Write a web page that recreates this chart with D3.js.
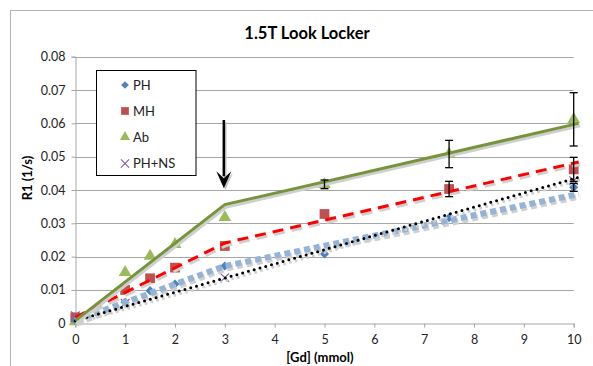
<!DOCTYPE html>
<html><head><meta charset="utf-8">
<script src="https://cdn.jsdelivr.net/npm/d3@7"></script>
<style>body{margin:0;background:#fff}svg{display:block;font-family:Lato,"Open Sans",sans-serif}</style>
</head><body>
<svg id="c" width="593" height="366"></svg>
<script>
const title = "1.5T Look Locker";
const xLabel = "[Gd] (mmol)";
const yLabel = "R1 (1/s)";
const xTicks = [0,1,2,3,4,5,6,7,8,9,10];
const yTicks = [0,0.01,0.02,0.03,0.04,0.05,0.06,0.07,0.08];
const seriesNames = ["PH","MH","Ab","PH+NS"];
const conc = [0,1,1.5,2,3,5,7.5,10];
const PH = [0.001,0.0063,0.0098,0.0118,0.0172,0.0208,0.0317,0.0408];
const MH = [0.0018,0.0100,0.0135,0.0167,0.0232,0.0328,0.0403,0.0462];
const Ab = [0.0005,0.0153,0.0202,0.0237,0.0318,0.0417,0.0508,0.0612];
const concNS = [0,1,3,10];
const PHNS = [0.0023,0.0060,0.0137,0.0428];
const errPH = [0,0,0,0,0,0,0,0.0012];
const errMH = [0,0,0,0,0,0,0.0023,0.0036];
const errAb = [0,0,0,0,0,0.0013,0.0041,0.008];
const fitX = [0,3,10.1];
const fitAb = [0.0008,0.0356,0.0600];
const fitMH = [0.0018,0.0241,0.0484];
const fitPH = [0.0008,0.0172,0.0388];
const fitNSX = [0,10.1];
const fitNS = [0.0008,0.0438];
const arrowX = 2.98, arrowTop = 0.061, arrowTip = 0.0405;

const svg = d3.select("#c");
const x = d3.scaleLinear().domain([0,10]).range([75.3,573.7]);
const y = d3.scaleLinear().domain([0,0.08]).range([323.3,56.7]);
const FONT = "Lato,'Open Sans',sans-serif";

// outer chart border
svg.append("rect").attr("x",10.5).attr("y",10.5).attr("width",700).attr("height",500)
  .attr("fill","none").attr("stroke","#b3b3b3").attr("stroke-width",1);

// title
svg.append("text").attr("x",307).attr("y",39).attr("text-anchor","middle")
  .attr("font-weight","bold").attr("font-size",16.5).text(title);

// gridlines
svg.append("g").selectAll("line").data(yTicks.slice(1)).join("line")
  .attr("x1",x(0)).attr("x2",x(10)).attr("y1",d=>Math.round(y(d))+0.5).attr("y2",d=>Math.round(y(d))+0.5)
  .attr("stroke","#a6a6a6").attr("stroke-width",1);

// axes
const yAx = svg.append("g").attr("transform",`translate(${Math.round(x(0))+0.5},0)`)
  .call(d3.axisLeft(y).tickValues(yTicks).tickSize(4).tickPadding(6)
    .tickFormat(d=>d===0?"0":d3.format(".2f")(d)));
const xAx = svg.append("g").attr("transform",`translate(0,${Math.round(y(0))+0.5})`)
  .call(d3.axisBottom(x).tickValues(xTicks).tickSize(4).tickPadding(8).tickFormat(d3.format("d")));
[yAx,xAx].forEach(g=>{
  g.select(".domain").attr("stroke","#a6a6a6");
  g.selectAll(".tick line").attr("stroke","#a6a6a6");
  g.selectAll("text").attr("font-size",12.5).attr("fill","#222").attr("font-family",FONT);
});

// axis labels
svg.append("text").attr("x",320).attr("y",362).attr("text-anchor","middle")
  .attr("font-weight","bold").attr("font-size",13).text(xLabel);
svg.append("text").attr("transform","translate(32,178) rotate(-90)").attr("text-anchor","middle")
  .attr("font-weight","bold").attr("font-size",13).text(yLabel);

const plot = svg.append("g");

// markers
const sym = {
  PH:{type:d3.symbolSquare,color:"#4F81BD",size:42,rot:45},
  MH:{type:d3.symbolSquare,color:"#C0504D",size:95,rot:0},
  Ab:{type:d3.symbolTriangle,color:"#9BBB59",size:70,rot:0},
  "PH+NS":{type:d3.symbolX,color:"#8064A2",size:50,rot:0}
};
function styleSym(sel, s){
  sel.attr("d", d3.symbol().type(s.type).size(s.size))
    .attr("fill", s.type===d3.symbolX ? "none" : s.color)
    .attr("stroke", s.type===d3.symbolX ? s.color : "none")
    .attr("stroke-width",1.2);
}
function markers(xs, ys, name){
  const s = sym[name];
  styleSym(plot.append("g").selectAll("path").data(ys).join("path")
    .attr("transform",(d,i)=>`translate(${x(xs[i])},${y(d)}) rotate(${s.rot})`), s);
}
markers(conc, Ab, "Ab");
markers(conc, MH, "MH");
markers(conc, PH, "PH");
markers(concNS, PHNS, "PH+NS");

// fit lines with shadows
const line = d3.line().x(d=>x(d[0])).y(d=>y(d[1]));
function fit(xs, ys, color, width, dash, cap){
  const pts = xs.map((v,i)=>[v,ys[i]]);
  plot.append("path").attr("d",line(pts)).attr("transform","translate(1.5,2.5)")
    .attr("fill","none").attr("stroke","#cfcfcf").attr("stroke-width",width)
    .attr("stroke-dasharray",dash).attr("stroke-linecap",cap);
  plot.append("path").attr("d",line(pts))
    .attr("fill","none").attr("stroke",color).attr("stroke-width",width)
    .attr("stroke-dasharray",dash).attr("stroke-linecap",cap);
}
fit(fitX, fitPH, "#95B3D7", 6, "6,4", "butt");
fit(fitNSX, fitNS, "#000", 3, "0,6", "round");
fit(fitX, fitMH, "#FF0000", 3, "11,7", "butt");
fit(fitX, fitAb, "#77933C", 3, null, "butt");

// error bars
function errbars(xs, ys, es){
  const d = xs.map((v,i)=>({x:v,y:ys[i],e:es[i]})).filter(o=>o.e>0);
  const g = plot.append("g").attr("stroke","#000").attr("stroke-width",1.3);
  d.forEach(o=>{
    const cx = x(o.x);
    g.append("line").attr("x1",cx).attr("x2",cx).attr("y1",y(o.y+o.e)).attr("y2",y(o.y-o.e));
    [o.y+o.e,o.y-o.e].forEach(v=>g.append("line").attr("x1",cx-4).attr("x2",cx+4).attr("y1",y(v)).attr("y2",y(v)));
  });
}
errbars(conc, Ab, errAb);
errbars(conc, MH, errMH);
errbars(conc, PH, errPH);

// arrow with shadow
function arrow(dx, dy, color){
  const ax = x(arrowX)+dx, y0 = y(arrowTop)+dy, y1 = y(arrowTip)+dy;
  const g = svg.append("g");
  g.append("line").attr("x1",ax).attr("x2",ax).attr("y1",y0).attr("y2",y1-12)
    .attr("stroke",color).attr("stroke-width",2.5);
  g.append("path").attr("d",`M${ax-7.5},${y1-17} L${ax},${y1-10} L${ax+7.5},${y1-17} L${ax},${y1} Z`)
    .attr("fill",color);
}
arrow(1.5,2,"#c4c4c4");
arrow(0,0,"#000");

// legend
const lg = svg.append("g");
lg.append("rect").attr("x",96.5).attr("y",70.5).attr("width",99.5).attr("height",105)
  .attr("fill","#fff").attr("stroke","#000").attr("stroke-width",1);
const ly = [85,111,137,163.5];
seriesNames.forEach((n,i)=>{
  const s = Object.assign({}, sym[n]);
  s.size = n==="PH" ? 30 : (n==="MH"? 60 : 45);
  styleSym(lg.append("path").attr("transform",`translate(125,${ly[i]}) rotate(${s.rot})`), s);
  lg.append("text").attr("x",133).attr("y",ly[i]+4.5).attr("font-size",13).attr("fill","#222").text(n);
});
</script>
</body></html>
